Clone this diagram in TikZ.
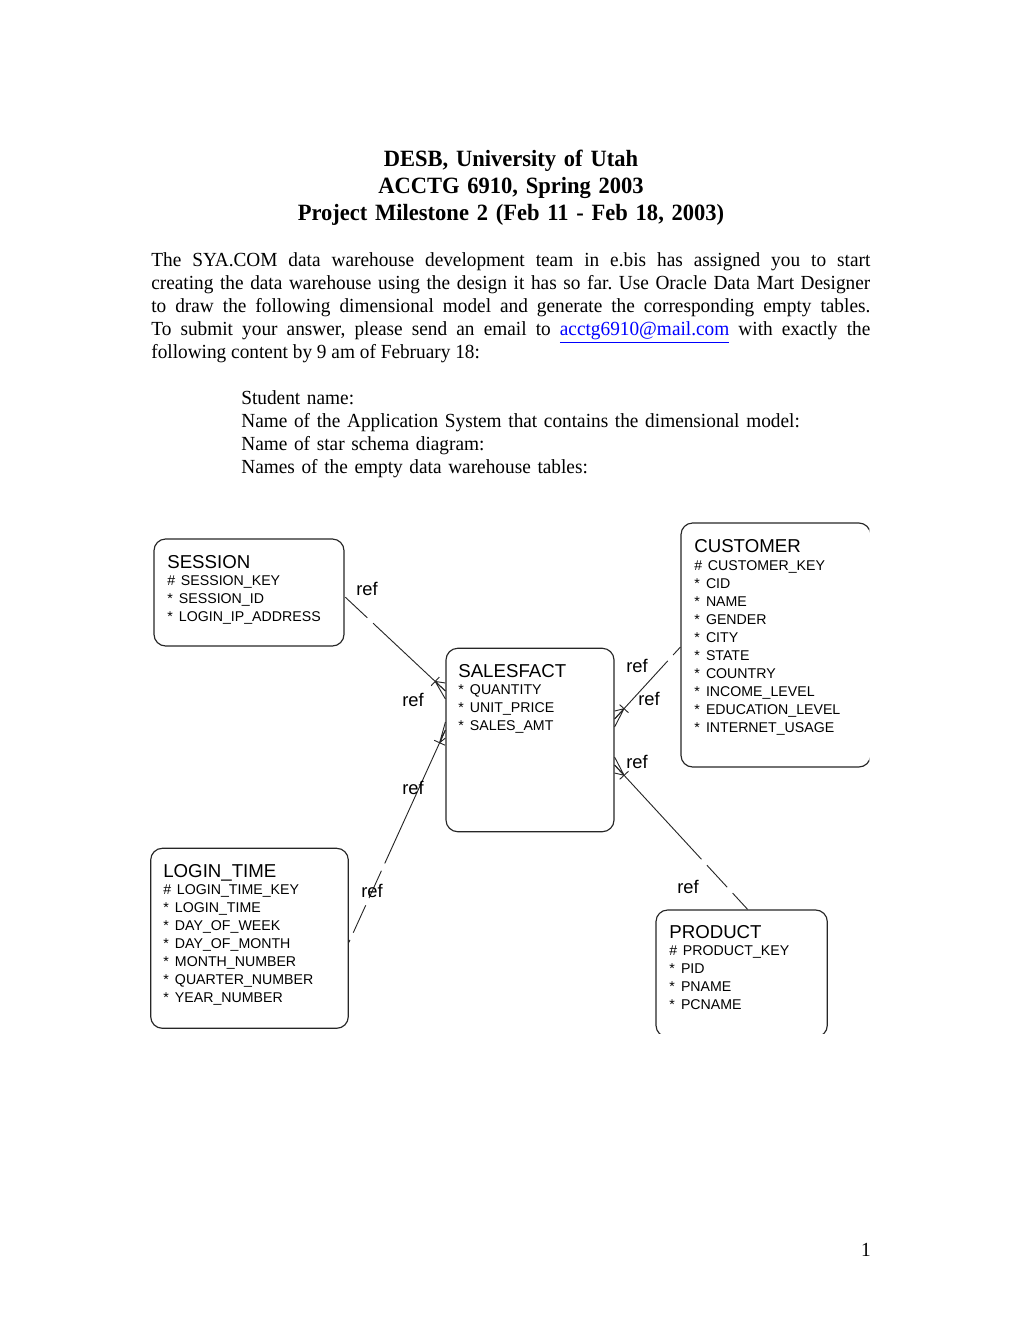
\documentclass[tikz,border=0pt]{standalone}
\usepackage{fontspec}
\setmainfont{Liberation Serif}[FakeStretch=0.965]
\setsansfont{Liberation Sans}
\usetikzlibrary{calc,fit}
\definecolor{linkblue}{RGB}{0,0,255}
\frenchspacing
\tikzset{
  ent/.style    ={draw=black!85, rounded corners=7pt, inner sep=0pt,
                  line width=0.7pt},
  enttxt/.style ={anchor=base west, inner sep=0pt, text width=130pt,
                  align=left, font=\sffamily\fontsize{8.5}{10.8}\selectfont},
  rel/.style    ={line width=0.55pt, black!85},
  optl/.style   ={rel, dash pattern=on 18pt off 4.8pt},
  rlbl/.style   ={inner sep=0pt, font=\sffamily\fontsize{11}{11}\selectfont},
  body/.style   ={inner sep=0pt, font=\fontsize{12}{13.8}\selectfont},
}
\newcommand{\pkey}{\makebox[8.2pt][l]{\#}}
\newcommand{\attr}{\makebox[7pt][l]{*}}
\newcommand{\etitle}[1]{{\fontsize{11.2}{11.2}\selectfont #1}\\[-0.4pt]}
% crow's foot at the fact end (#1), line coming from #2
\newcommand{\crowfoot}[2]{%
  \coordinate (cf) at ($(#1)!8.4pt!(#2)$);
  \draw[rel] (cf) -- ($(#1)+(0,-8)$) (cf) -- (#1) (cf) -- ($(#1)+(0,8)$);
  \draw[rel] ($(cf)!3.6pt!90:(#2)$) -- ($(cf)!3.6pt!-90:(#2)$);}

\begin{document}
\begin{tikzpicture}[x=0.6pt, y=-0.6pt]
\useasboundingbox (0,0) rectangle (1020,1320);

% page text
\node[body, font=\bfseries\fontsize{14}{16.2}\selectfont, text width=400pt,
  align=center, anchor=base] (head) at (511,166.5)
  {DESB, University of Utah\\ ACCTG 6910, Spring 2003\\
   Project Milestone 2 (Feb 11 - Feb 18, 2003)};
\node[body, text width=431.4pt, align=justify, anchor=base west] (intro) at (151,266.7) {%
\frenchspacing\tolerance=9999 \hyphenpenalty=10000 \emergencystretch=20pt
The SYA.COM data warehouse development team in e.bis has assigned you to start\linebreak
creating the data warehouse using the design it has so far. Use Oracle Data Mart Designer\linebreak
to draw the following dimensional model and generate the corresponding empty tables.\linebreak
To submit your answer, please send an email to \textcolor{linkblue}{\underline{acctg6910@mail.com}} with exactly the\linebreak
following content by 9 am of February 18:};
\node[body, text width=400pt, align=left, anchor=base west] (items) at (241,404)
  {Student name:\\
   Name of the Application System that contains the dimensional model:\\
   Name of star schema diagram:\\
   Names of the empty data warehouse tables:};
\node[body, anchor=base] (pgno) at (866,1256) {1};

% entities
\node[ent, fit={(154,539) (344,646)}] (sess) {};
\node[enttxt] (sessT) at (167,568) {\etitle{SESSION}\pkey SESSION\_KEY\\
  \attr SESSION\_ID\\ \attr LOGIN\_IP\_ADDRESS};

\begin{scope}
\clip (0,0) rectangle (869.3,1320);
\node[ent, fit={(681,523) (870.5,767)}] (cust) {};
\end{scope}
\node[enttxt] (custT) at (694,552.7) {\etitle{CUSTOMER}\pkey CUSTOMER\_KEY\\
  \attr CID\\ \attr NAME\\ \attr GENDER\\ \attr CITY\\ \attr STATE\\
  \attr COUNTRY\\ \attr INCOME\_LEVEL\\ \attr EDUCATION\_LEVEL\\
  \attr INTERNET\_USAGE};

\node[ent, fit={(446,648.3) (614,831.7)}] (fact) {};
\node[enttxt] (factT) at (458,677) {\etitle{SALESFACT}\attr QUANTITY\\
  \attr UNIT\_PRICE\\ \attr SALES\_AMT};

\node[ent, fit={(150.7,848.3) (348.3,1028.3)}] (login) {};
\node[enttxt] (loginT) at (163,877.3) {\etitle{LOGIN\_TIME}\pkey LOGIN\_TIME\_KEY\\
  \attr LOGIN\_TIME\\ \attr DAY\_OF\_WEEK\\ \attr DAY\_OF\_MONTH\\
  \attr MONTH\_NUMBER\\ \attr QUARTER\_NUMBER\\ \attr YEAR\_NUMBER};

\begin{scope}
\clip (0,0) rectangle (1020,1033);
\node[ent, fit={(656,910) (827.3,1037)}] (prod) {};
\end{scope}
\node[enttxt] (prodT) at (669,938.3) {\etitle{PRODUCT}\pkey PRODUCT\_KEY\\
  \attr PID\\ \attr PNAME\\ \attr PCNAME};

% relationship ends
\coordinate (fS) at ($(fact.west)+(0,-49)$);
\coordinate (dS) at ($(sess.east)+(0,4)$);
\coordinate (fC) at ($(fact.east)+(0,-21)$);
\coordinate (dC) at ($(cust.west)+(0,2)$);
\coordinate (fP) at ($(fact.east)+(0,25)$);
\coordinate (dP) at ($(prod.north)+(6,0)$);
\coordinate (fL) at ($(fact.west)+(0,-10)$);
\coordinate (dL) at ($(login.east)+(0,4)$);

\foreach \f/\d in {fS/dS, fC/dC, fP/dP, fL/dL} {
  \draw[rel] (\f) -- ($(\f)!0.5!(\d)$);
  \draw[optl] ($(\f)!0.5!(\d)$) -- (\d);
  \crowfoot{\f}{\d}
}

\node[rlbl] (rS1) at (367,589) {ref};
\node[rlbl] (rS2) at (413,700) {ref};
\node[rlbl] (rC1) at (637,666) {ref};
\node[rlbl] (rC2) at (649,699) {ref};
\node[rlbl] (rP1) at (637,762) {ref};
\node[rlbl] (rP2) at (688,887) {ref};
\node[rlbl] (rL1) at (413,788) {ref};
\node[rlbl] (rL2) at (372,891) {ref};
\end{tikzpicture}
\end{document}
